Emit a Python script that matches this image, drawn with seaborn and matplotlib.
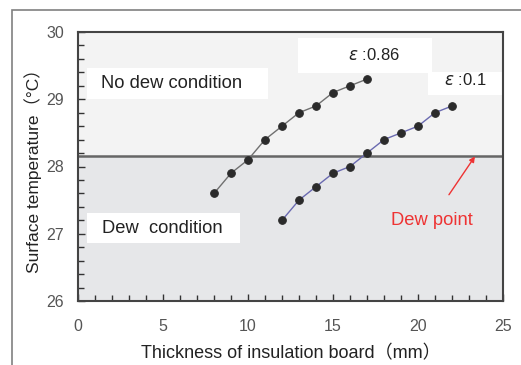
import numpy as np
import pandas as pd
import matplotlib
matplotlib.use("Agg")
import matplotlib.pyplot as plt
import seaborn as sns
from matplotlib.patches import Rectangle

# data
x_086 = [8, 9, 10, 11, 12, 13, 14, 15, 16, 17]
y_086 = [27.6, 27.9, 28.1, 28.4, 28.6, 28.8, 28.9, 29.1, 29.2, 29.3]
x_01 = [12, 13, 14, 15, 16, 17, 18, 19, 20, 21, 22]
y_01 = [27.2, 27.5, 27.7, 27.9, 28.0, 28.2, 28.4, 28.5, 28.6, 28.8, 28.9]
dew_point = 28.15
x_ticks = [0, 5, 10, 15, 20, 25]
y_ticks = [26, 27, 28, 29, 30]

df = pd.concat([
    pd.DataFrame({"t": x_086, "temp": y_086, "eps": "0.86"}),
    pd.DataFrame({"t": x_01, "temp": y_01, "eps": "0.1"}),
])

sns.set_style("white")
plt.rcParams["font.family"] = ["Liberation Sans", "Noto Sans CJK JP", "DejaVu Sans"]

fig = plt.figure(figsize=(5.21, 3.65), dpi=100)
ax = fig.add_axes([78 / 521, 64 / 365, 425 / 521, 269 / 365])

# outer frame (left and top edges visible)
fig.patches.append(Rectangle((12 / 521, -0.1), 1.2, 1.1 - 10 / 365,
                             transform=fig.transFigure, fill=False,
                             edgecolor="#808080", lw=1.2))

ax.set_xlim(0, 25)
ax.set_ylim(26, 30)

# shaded regions
ax.axhspan(dew_point, 30, color="#f3f3f3", zorder=0)
ax.axhspan(26, dew_point, color="#e6e7e9", zorder=0)
ax.axhline(dew_point, color="#666666", lw=1.8, zorder=2)

# label boxes
for (x0, x1, y0, y1) in [(0.53, 11.18, 29.0, 29.465), (0.53, 9.53, 26.86, 27.31),
                         (12.94, 20.82, 29.39, 29.91), (20.59, 25.0, 29.06, 29.405)]:
    ax.add_patch(Rectangle((x0, y0), x1 - x0, y1 - y0, facecolor="white",
                           edgecolor="none", zorder=1))

sns.lineplot(data=df, x="t", y="temp", hue="eps", palette={"0.86": "#707070", "0.1": "#6a6ab0"},
             lw=1.0, marker="o", markersize=5.5, markerfacecolor="#2b2b2b",
             markeredgecolor="#2b2b2b", legend=False, ax=ax, zorder=3)

ax.text(1.35, 29.23, "No dew condition", fontsize=13.2, color="#222222", va="center", zorder=4)
ax.text(1.41, 27.08, "Dew  condition", fontsize=13.2, color="#222222", va="center", zorder=4)
ax.text(17.4, 29.66, r"$\varepsilon$ :0.86", fontsize=12, color="#222222",
        ha="center", va="center", zorder=4)
ax.text(22.8, 29.28, r"$\varepsilon$ :0.1", fontsize=12, color="#222222",
        ha="center", va="center", zorder=4)
ax.annotate("Dew point", xy=(23.35, 28.15), xytext=(20.8, 27.2),
            fontsize=13.2, color="#ee3333", ha="center", va="center",
            arrowprops=dict(arrowstyle="-|>", color="#ee3333", lw=1.0,
                            mutation_scale=8, shrinkA=12, shrinkB=0))

ax.set_xticks(x_ticks)
ax.set_yticks(y_ticks)
ax.set_xticks(np.arange(0, 26, 1), minor=True)
ax.set_yticks(np.arange(26, 30.01, 0.2), minor=True)
ax.tick_params(which="both", direction="in", color="#333333", width=1.0,
               bottom=True, left=True)
ax.tick_params(which="major", length=5, labelsize=11.5, labelcolor="#555555", pad=10)
ax.tick_params(axis="x", which="major", pad=13)
ax.tick_params(which="minor", length=4)
for s in ax.spines.values():
    s.set_color("#444444")
    s.set_linewidth(1.5)

ax.set_xlabel("Thickness of insulation board（mm）", fontsize=13, color="#222222", labelpad=8)
ax.set_ylabel("Surface temperature（°C）", fontsize=12.5, color="#222222", labelpad=3)

fig.savefig("out.png", dpi=100)
